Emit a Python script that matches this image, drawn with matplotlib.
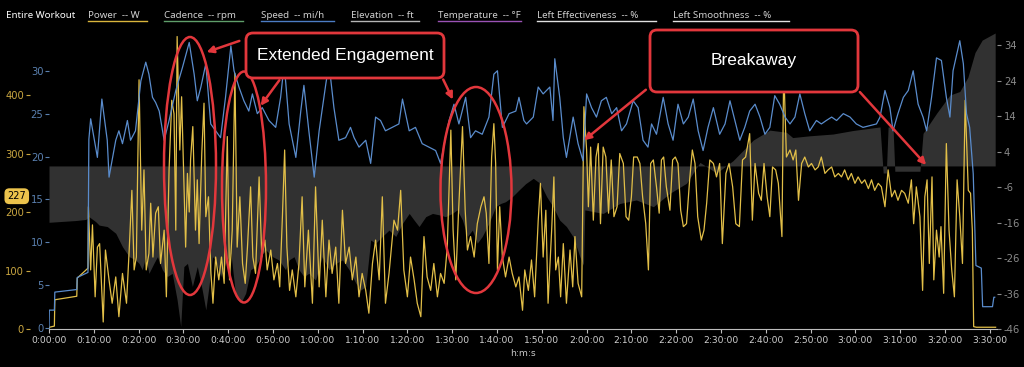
import numpy as np
import matplotlib
matplotlib.use('Agg')
import matplotlib.pyplot as plt
from matplotlib.lines import Line2D
from matplotlib.patches import Ellipse, FancyBboxPatch, FancyArrowPatch
from matplotlib.transforms import IdentityTransform

plt.rcParams['axes.unicode_minus'] = False

# 1. Datos (tiempo en minutos)
potencia_t = [0, 0.1, 1.2, 1.3, 6.2, 6.3, 8.7, 8.8, 9.3, 9.7,
              10.3, 10.8, 11.3, 12.1, 12.6, 13.4, 14.1, 14.9, 15.6, 16.4,
              17.3, 17.9, 18.5, 19.0, 19.5, 20.1, 20.7, 21.2, 21.7, 22.3,
              22.7, 23.2, 23.8, 24.4, 24.9, 25.7, 26.2, 26.8, 27.4, 27.9,
              28.3, 28.6, 29.2, 29.6, 30.1, 30.5, 30.9, 31.3, 31.6, 32.1,
              32.7, 33.1, 33.5, 34.1, 34.6, 35.0, 35.6, 36.1, 36.6, 37.2,
              37.9, 38.5, 39.1, 39.8, 40.3, 40.9, 41.5, 42.0, 42.6, 43.2,
              43.8, 44.3, 45.0, 45.5, 46.1, 46.9, 47.5, 48.2, 48.7, 49.5,
              50.2, 51.0, 51.5, 52.1, 52.6, 53.1, 53.7, 54.3, 55.1, 55.8,
              56.5, 57.1, 57.9, 58.8, 59.5, 60.3, 61.0, 61.8, 62.5, 63.2,
              64.0, 64.7, 65.5, 66.2, 67.0, 67.7, 68.5, 69.2, 69.9, 70.7,
              71.4, 72.2, 72.9, 73.7, 74.4, 75.1, 75.9, 77.0, 77.8, 78.5,
              79.2, 80.0, 80.7, 81.5, 82.2, 83.0, 83.7, 84.4, 85.2, 85.9,
              86.7, 87.4, 88.2, 88.9, 89.7, 90.2, 90.8, 91.4, 92.3, 92.9,
              93.4, 94.1, 94.9, 95.6, 96.4, 97.1, 97.6, 98.2, 98.8, 99.3,
              99.7, 100.1, 100.6, 101.2, 101.9, 102.7, 103.4, 104.2, 104.9, 105.7,
              106.2, 107.0, 107.7, 108.4, 109.2, 109.7, 110.3, 110.9, 111.4, 112.2,
              112.7, 113.1, 113.7, 114.2, 114.8, 115.5, 116.3, 116.9, 117.4, 118.1,
              118.9, 119.4, 120.0, 120.4, 120.9, 121.5, 122.1, 122.6, 123.1, 123.7,
              124.3, 124.9, 125.5, 126.1, 126.8, 127.4, 128.2, 128.8, 129.4, 130.0,
              130.5, 131.3, 131.9, 132.5, 133.2, 133.8, 134.3, 134.9, 135.6, 136.2,
              136.7, 137.2, 137.8, 138.6, 139.2, 139.8, 140.4, 141.0, 141.6, 142.3,
              143.0, 143.6, 144.2, 144.8, 145.6, 146.2, 146.8, 147.5, 148.3, 149.0,
              149.7, 150.3, 151.1, 151.8, 152.6, 153.3, 154.1, 154.8, 155.5, 156.4,
              157.0, 157.6, 158.4, 159.0, 159.6, 160.3, 160.9, 161.5, 162.2, 162.8,
              163.6, 164.0, 164.6, 165.4, 166.1, 166.7, 167.3, 168.0, 168.7, 169.5,
              170.2, 171.0, 171.7, 172.4, 173.2, 173.9, 174.7, 175.4, 176.2, 176.9,
              177.6, 178.4, 179.1, 179.9, 180.6, 181.4, 182.1, 182.9, 183.6, 184.3,
              185.1, 185.8, 186.6, 187.3, 188.1, 188.8, 189.5, 190.3, 191.0, 191.8,
              192.5, 193.0, 193.6, 194.4, 195.0, 195.5, 196.0, 196.5, 197.1, 197.5,
              198.1, 198.7, 199.1, 199.7, 200.3, 200.9, 201.5, 202.1, 202.7, 203.3,
              203.9, 204.5, 205.2, 205.7, 206.1, 206.4, 207.0, 211.3]
potencia_w = [0, 3, 5, 50, 56, 87, 104, 209, 101, 178,
              55, 140, 146, 12, 135, 84, 44, 89, 21, 95,
              44, 135, 237, 101, 123, 426, 169, 272, 101, 129,
              215, 123, 198, 209, 112, 169, 55, 272, 391, 368,
              169, 500, 306, 397, 255, 140, 266, 200, 289, 346,
              169, 255, 146, 300, 386, 192, 226, 101, 44, 123,
              84, 123, 78, 329, 84, 169, 437, 140, 226, 112,
              78, 140, 243, 123, 95, 260, 123, 152, 101, 135,
              84, 112, 72, 192, 306, 140, 66, 101, 55, 112,
              226, 72, 169, 44, 243, 72, 186, 55, 152, 95,
              140, 44, 203, 112, 140, 84, 123, 55, 95, 66,
              27, 112, 152, 84, 226, 44, 95, 186, 169, 237,
              101, 55, 123, 84, 44, 21, 158, 89, 66, 112,
              55, 95, 78, 140, 340, 169, 84, 198, 346, 203,
              135, 158, 123, 180, 209, 226, 198, 112, 294, 351,
              283, 101, 209, 123, 89, 123, 95, 72, 89, 32,
              101, 66, 118, 55, 186, 249, 123, 203, 44, 169,
              260, 101, 123, 55, 146, 44, 135, 72, 158, 78,
              55, 380, 306, 209, 311, 186, 294, 317, 180, 311,
              294, 198, 289, 192, 209, 300, 283, 192, 186, 226,
              294, 294, 283, 226, 180, 101, 283, 289, 243, 198,
              289, 294, 243, 203, 289, 294, 283, 203, 175, 180,
              255, 306, 283, 192, 152, 169, 215, 289, 283, 260,
              283, 146, 266, 283, 243, 180, 175, 289, 294, 334,
              186, 283, 232, 220, 283, 226, 192, 277, 272, 249,
              158, 448, 294, 306, 289, 306, 220, 283, 294, 277,
              283, 272, 277, 294, 266, 272, 277, 260, 266, 260,
              272, 255, 266, 249, 260, 249, 255, 240, 255, 237,
              249, 243, 209, 272, 226, 237, 220, 237, 232, 215,
              255, 180, 243, 192, 66, 226, 255, 112, 260, 84,
              169, 123, 175, 61, 317, 169, 101, 55, 255, 192,
              112, 391, 237, 232, 169, 4, 3, 3]

velocidad_t = [0, 0.07, 1.2, 1.3, 6.2, 6.3, 8.7, 8.9, 9.3, 10.8,
               11.8, 13.0, 13.4, 14.9, 15.6, 16.4, 17.5, 18.2, 19.3, 20.5,
               21.6, 22.3, 23.1, 23.8, 24.6, 25.7, 26.8, 28.3, 29.8, 31.3,
               32.4, 33.1, 33.9, 35.0, 36.1, 37.2, 38.3, 39.4, 40.6, 41.3,
               42.4, 43.5, 44.6, 45.4, 46.5, 47.6, 49.1, 50.6, 51.7, 52.5,
               53.6, 55.1, 56.2, 56.9, 58.0, 59.2, 60.3, 61.8, 62.5, 63.6,
               64.7, 66.2, 67.3, 68.1, 69.2, 70.7, 71.8, 72.9, 74.0, 75.1,
               76.6, 78.1, 78.9, 80.4, 81.8, 83.3, 84.8, 86.3, 87.4, 88.5,
               89.3, 90.4, 91.5, 93.0, 94.1, 95.2, 96.7, 98.2, 99.3, 100.1,
               101.2, 102.7, 104.2, 104.9, 106.0, 106.6, 108.1, 109.2, 110.3, 111.8,
               112.5, 112.9, 114.0, 114.8, 115.5, 117.0, 118.1, 119.2, 120.0, 121.1,
               122.2, 123.3, 124.4, 125.6, 126.7, 127.8, 128.9, 130.4, 131.5, 132.6,
               133.7, 134.5, 135.6, 137.1, 138.2, 139.3, 140.4, 141.6, 142.7, 143.8,
               144.9, 146.0, 147.1, 148.3, 149.7, 150.9, 152.0, 153.1, 154.2, 155.3,
               156.4, 157.6, 158.7, 159.8, 160.9, 162.0, 163.1, 164.3, 165.4, 166.5,
               167.6, 168.7, 169.8, 171.3, 172.4, 173.5, 174.7, 175.8, 177.3, 178.8,
               180.2, 181.7, 183.2, 184.7, 185.5, 186.6, 187.7, 188.4, 189.5, 190.7,
               191.8, 192.9, 194.0, 195.1, 195.9, 197.0, 198.1, 199.2, 200.3, 201.1,
               201.8, 203.3, 204.1, 204.8, 205.5, 206.3, 206.9, 208.1, 208.4, 210.6,
               210.9, 211.1]
velocidad_mph = [0, 2.1, 2.1, 4.2, 4.5, 5.9, 6.5, 22.0, 24.4, 19.9,
                 26.7, 21.9, 17.6, 21.9, 23.0, 21.5, 24.2, 21.9, 23.0, 28.8,
                 31.0, 29.6, 26.9, 26.3, 25.3, 21.9, 24.2, 27.7, 30.4, 33.3,
                 29.6, 26.5, 28.1, 30.8, 23.8, 23.0, 22.2, 26.9, 32.9, 30.0,
                 28.1, 26.5, 25.3, 27.3, 25.0, 25.7, 24.2, 23.4, 26.9, 30.8,
                 23.8, 19.9, 25.3, 28.3, 23.0, 17.6, 23.0, 28.5, 30.8, 25.7,
                 21.9, 22.2, 23.4, 22.2, 21.1, 21.9, 19.2, 24.6, 24.2, 23.0,
                 23.4, 23.8, 26.7, 23.0, 23.4, 21.5, 21.1, 20.7, 19.2, 22.2,
                 24.2, 26.1, 23.8, 26.9, 22.2, 23.0, 22.6, 24.6, 29.6, 30.0,
                 23.4, 25.0, 25.3, 26.9, 24.2, 23.8, 24.6, 28.1, 27.3, 28.1,
                 24.2, 31.4, 26.9, 22.2, 19.9, 24.6, 21.5, 19.5, 27.3, 25.7,
                 24.6, 26.5, 26.9, 25.0, 25.7, 23.0, 23.8, 26.5, 25.7, 21.9,
                 21.1, 23.8, 22.6, 26.9, 23.8, 21.9, 26.1, 23.8, 24.6, 26.7,
                 23.0, 20.7, 23.4, 25.7, 22.6, 23.8, 26.5, 24.2, 21.9, 23.4,
                 25.3, 26.1, 24.6, 22.6, 23.4, 27.1, 26.1, 24.6, 23.8, 24.6,
                 27.3, 25.0, 23.0, 24.2, 23.8, 24.2, 24.6, 24.2, 25.0, 24.6,
                 23.8, 23.4, 23.6, 23.8, 24.6, 27.7, 25.7, 23.0, 25.0, 26.9,
                 27.7, 30.0, 26.1, 24.6, 23.0, 26.9, 31.5, 31.2, 26.9, 24.6,
                 30.0, 33.5, 30.8, 25.0, 23.4, 18.0, 7.3, 7.0, 2.5, 2.5,
                 3.6, 3.6]

elevacion_t = [0, 6.0, 8.2, 8.9, 10.4, 11.2, 13.0, 14.9, 16.4, 17.9,
               19.3, 20.1, 20.8, 21.6, 22.3, 23.4, 24.2, 25.3, 26.4, 27.5,
               28.6, 29.4, 30.1, 30.9, 32.0, 33.1, 34.2, 35.0, 35.7, 36.5,
               37.2, 38.3, 39.4, 40.6, 41.7, 42.8, 43.9, 45.0, 46.1, 47.2,
               48.4, 49.9, 51.3, 52.8, 53.6, 54.7, 55.8, 56.9, 58.0, 59.5,
               61.0, 62.5, 64.0, 65.5, 67.0, 68.5, 69.6, 70.7, 71.8, 72.9,
               74.4, 75.9, 77.4, 78.9, 80.4, 81.5, 82.6, 84.1, 85.6, 87.1,
               88.5, 90.0, 91.1, 92.3, 93.4, 94.5, 95.6, 96.7, 98.2, 99.7,
               100.8, 101.9, 103.4, 104.9, 106.4, 108.1, 109.6, 111.1, 112.5, 114.0,
               115.5, 117.0, 118.5, 119.3, 119.6, 123.7, 127.4, 131.1, 134.9, 138.6,
               142.3, 145.3, 149.0, 152.7, 157.2, 160.9, 164.6, 166.0, 169.8, 175.0,
               179.5, 185.5, 186.2, 186.9, 187.3, 188.4, 188.8, 194.4, 195.1, 198.2,
               201.1, 203.3, 205.1, 206.7, 208.3, 211.2]
elevacion_ft = [-15.9, -15.4, -15.1, -14.3, -15.7, -16.7, -17.1, -19.0, -22.8, -25.6,
                -26.5, -27.5, -29.3, -25.6, -30.3, -27.5, -25.6, -29.3, -31.2, -30.3,
                -37.8, -45.3, -28.4, -27.5, -34.0, -28.4, -35.0, -40.6, -34.0, -25.6,
                -26.5, -31.2, -27.5, -24.6, -36.9, -38.7, -35.9, -29.3, -28.4, -25.6,
                -23.7, -25.6, -26.5, -29.3, -26.5, -25.6, -29.3, -31.2, -30.3, -32.2,
                -25.6, -29.3, -27.5, -26.5, -29.3, -33.1, -35.0, -34.0, -20.9, -21.8,
                -19.9, -18.1, -19.9, -16.2, -13.4, -15.3, -17.1, -14.3, -13.4, -13.8,
                -14.3, -13.4, -12.4, -15.3, -19.9, -18.1, -21.8, -19.9, -16.2, -11.5,
                -10.6, -10.1, -8.7, -6.8, -5.0, -3.5, -4.9, -8.7, -11.5, -15.3,
                -17.1, -20.0, -25.6, -28.0, -12.4, -13.4, -10.6, -9.6, -11.5, -7.7,
                -4.9, 1.0, -2.0, 1.5, 7.3, 10.1, 9.5, 8.0, 8.5, 9.0,
                10.0, 11.0, -2.0, -2.0, 11.0, 11.0, -1.5, -1.5, 9.2, 15.0,
                20.0, 21.0, 25.0, 32.0, 35.5, 37.5]

# leyenda superior: texto y color del subrayado
leyenda_txt = ['Power  -- W', 'Cadence  -- rpm', 'Speed  -- mi/h', 'Elevation  -- ft',
               'Temperature  -- \u00b0F', 'Left Effectiveness  -- %', 'Left Smoothness  -- %']
leyenda_col = ['#d9b53c', '#5f9e6a', '#4c7cc4', '#b5b5b5', '#9a52b5', '#e0e0e0', '#e0e0e0']
leyenda_x = [88, 164, 261, 351, 438, 537, 673]
leyenda_fin = [147, 243, 334, 419, 521, 656, 789]

ticks_min = list(range(0, 211, 10))
ticks_txt = ['%d:%02d:00' % (m // 60, m % 60) for m in ticks_min]

# 2. Figura
W, H = 1024, 367
fig = plt.figure(figsize=(W / 100, H / 100), dpi=100, facecolor='black')
izq, der, arriba, abajo = 49, 997, 33, 329
ax_e = fig.add_axes([izq / W, 1 - abajo / H, (der - izq) / W, (abajo - arriba) / H])
ax_e.set_facecolor('black')
ax_p = ax_e.twinx()
ax_s = ax_e.twinx()

# elevacion (relleno respecto a 0)
ax_e.fill_between(elevacion_t, elevacion_ft, 0, color='#313131', lw=0, interpolate=True)
ax_e.set_ylim(-46, 37.5)
ax_e.set_yticks(range(-46, 35, 10))
ax_e.yaxis.tick_right()
ax_e.tick_params(axis='y', colors='#8a8a8a', labelsize=7.2, length=3, pad=2)

# potencia
ax_p.plot(potencia_t, potencia_w, color='#e2bf48', lw=0.9)
ax_p.set_ylim(0, 506)
ax_p.set_yticks([0, 100, 200, 300, 400])
ax_p.yaxis.set_ticks_position('left')
ax_p.spines['left'].set_position(('outward', 14))
ax_p.tick_params(axis='y', colors='#c9a640', labelsize=7.2, length=3, pad=1)

# velocidad
ax_s.plot(velocidad_t, velocidad_mph, color='#5a8ccc', lw=0.9)
ax_s.set_ylim(-0.1, 34.4)
ax_s.set_yticks(range(0, 31, 5))
ax_s.yaxis.set_ticks_position('left')
ax_s.tick_params(axis='y', colors='#5a80b0', labelsize=7.2, length=3, pad=1)

for a in (ax_e, ax_p, ax_s):
    for s in a.spines.values():
        s.set_visible(False)
ax_e.spines['bottom'].set_visible(True)
ax_e.spines['bottom'].set_color('#bdbdbd')
ax_e.spines['bottom'].set_linewidth(0.8)

ax_e.set_xlim(0, (der - izq) / 4.48)
ax_e.set_xticks(ticks_min)
ax_e.set_xticklabels(ticks_txt)
ax_e.tick_params(axis='x', colors='#bdbdbd', labelcolor='#d0d0d0', labelsize=6.6, length=3, pad=2)
ax_e.set_xlabel('h:m:s', color='#c8c8c8', fontsize=6.6, labelpad=3)

# etiqueta del valor actual de potencia
ax_p.text(-0.034, 227, '227', transform=ax_p.get_yaxis_transform(), ha='center', va='center',
          fontsize=7, color='black',
          bbox=dict(boxstyle='round,pad=0.3,rounding_size=0.5', fc='#ecc34c', ec='none'))

# 3. Leyenda superior
fig.text(6 / W, 1 - 15 / H, 'Entire Workout', color='white', fontsize=7, fontweight='semibold',
         va='center', family='Noto Sans')
for txt, col, x0, x1 in zip(leyenda_txt, leyenda_col, leyenda_x, leyenda_fin):
    fig.text(x0 / W, 1 - 15 / H, txt, color='#cfcfcf', fontsize=7, va='center', family='Noto Sans')
    fig.add_artist(Line2D([x0 / W, x1 / W], [1 - 20.5 / H, 1 - 20.5 / H],
                          transform=fig.transFigure, color=col, lw=1))

# 4. Anotaciones (en pixeles)
rojo = '#e2373c'
px = IdentityTransform()


def p(x, y):
    return (x, H - y)


for cx, cy, w, h in [(190, 166, 52, 258), (244, 187, 44, 231), (476, 190, 71, 206)]:
    fig.add_artist(Ellipse(p(cx, cy), w, h, transform=px, fill=False, ec=rojo, lw=1.8))

for x0, y0, x1, y1, txt in [(246, 33, 444, 78, 'Extended Engagement'), (650, 30, 858, 92, 'Breakaway')]:
    fig.add_artist(FancyBboxPatch(p(x0, y1), x1 - x0, y1 - y0, transform=px,
                                  boxstyle='round,pad=0,rounding_size=7',
                                  fc='black', ec=rojo, lw=2))
    fig.text((x0 + x1) / 2, H - (y0 + y1) / 2, txt, transform=px, ha='center', va='center',
             color='white', fontsize=12.5, family='Liberation Sans')

for a, b in [((242, 40), (204, 53)), ((281, 78), (259, 108)), ((442, 77), (454, 102)),
             ((648, 88), (582, 142)), ((858, 90), (928, 167))]:
    fig.add_artist(FancyArrowPatch(p(*a), p(*b), transform=px, arrowstyle='-|>',
                                   mutation_scale=10, color=rojo, lw=1.8))

fig.savefig('out.png', dpi=100, facecolor='black')
